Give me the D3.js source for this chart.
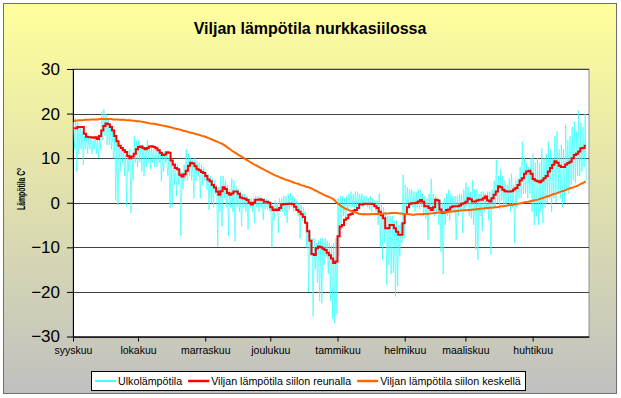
<!DOCTYPE html>
<html>
<head>
<meta charset="utf-8">
<script src="https://cdn.jsdelivr.net/npm/d3@7"></script>
<style>
  body { margin: 0; background: #fff; }
  text { font-family: Arial, "Liberation Sans", sans-serif; }
</style>
</head>
<body>
<div id="chart"></div>
<script>
// month names under the axis and the number of days shown in each month
const monthNames = ["syyskuu", "lokakuu", "marraskuu", "joulukuu", "tammikuu", "helmikuu", "maaliskuu", "huhtikuu"];
const monthDays = [30, 31, 30, 31, 31, 28, 31, 26];
const yTicks = [-30, -20, -10, 0, 10, 20, 30];

const seriesNames = ["Ulkolämpötila", "Viljan lämpötila siilon reunalla", "Viljan lämpötila siilon keskellä"];

// outdoor temperature, daily high and low reading
const outHigh = [
  18, 19, 18, 17, 16, 15, 15, 15, 15, 14,
  15, 14.5, 15, 20.5, 21, 20, 19, 17, 16, 15,
  14, 12.5, 13, 12, 11, 11, 12, 10, 15, 14,
  14, 13, 13, 12.5, 14, 13, 12.5, 12, 12, 11.5,
  12, 11, 11.5, 10.5, 10, 9.5, 9, 9, 8.5, 7.5,
  7, 8.5, 12, 11, 10, 9.5, 10, 9.5, 9, 8.5,
  8, 7, 6.5, 6, 5.5, 5, 4, 3.5, 6, 6,
  5, 4, 3, 5.5, 5, 3.5, 3, 2.5, 2, 2,
  1.5, 1, 1, 1, 1.5, 1.5, 1.2, 1, 1, 0.8,
  0.5, 0, -0.5, 0.5, 0, 1, 1, 1.5, 1.5, 2,
  2.2, 1.5, 1, 0.5, 0, -0.5, -1, -2, -5, -6,
  -8, -8, -9, -8.5, -8, -8, -8, -8.5, -9, -9.5,
  -9, -8, 1, 1.5, 1.5, 1, 1.5, 2, 2.5, 2,
  2.5, 2.5, 2, 2, 1.5, 1.5, 1, 1.5, 1, 0.5,
  0.5, 2, -0.5, -1, -2, -3, -3, -3, -4, -4,
  -5, -4.5, 6.3, 4, 3.5, 3, 3, 2.5, 2.5, 3,
  2.8, 2, 1.5, 1, 2, 5.4, 2, 1.5, 1, 0.5,
  0, 1, 2, 2.9, 2, 1.5, 1.5, 1.5, 2, 2,
  3, 4.5, 3.5, 2.5, 5, 3, 3, 2, 2.5, 2.5,
  2, 2.5, 2.5, 3, 5, 9.6, 6, 7.5, 6, 5,
  4, 5.5, 6.5, 4, 5, 5.5, 8, 13.7, 10, 9,
  8, 10, 11, 9, 10, 9, 12.2, 10, 11, 13.7,
  12, 10, 14.9, 16, 12, 13, 12, 17.5, 14, 15,
  17, 18.2, 16, 20.8, 18, 17, 20
];
const outLow = [
  12, 7, 11, 12, 8.5, 12, 11, 12, 11, 12,
  11, 10, 12, 14, 15, 13, 13, 12, 10, 0.5,
  -0.5, 7, 9, 6, -0.8, 7, -2.3, 5, 9, 8,
  9, 7, 6, 8, 9, 7.5, 9, 8, 8, 9,
  4.8, 7, 9, 6, -1.2, -0.8, 4, 1.5, 4, -7.5,
  3, 5, 5, 6, 5, 1, 5, 6, 1, 4,
  5, 3, -1.6, 0, -1, 2, -9.8, -2, -5.3, 1,
  -1, -7.5, -1, -2, -8.7, -1, -2, -5.3, -1, -2,
  -6, -1, -2, -4.5, -1, -2, -1, -3.8, -1.5, -1.5,
  -2, -10, -4, -2, -6.8, -2, -2, -3, -4.5, -1.5,
  -1, -2, -1.5, -3, -8, -4, -3, -10, -20, -12,
  -25.5, -15, -18, -22, -22.5, -14, -12, -16, -22, -26,
  -27, -25, -12, -6, -3, -4, -1.5, -1, -1, -1.5,
  -1, -0.5, -0.5, -1, -0.5, -1, -1.5, -2, -1, -2,
  -5, -9.8, -12.8, -9, -18.4, -14, -16, -15.7, -21, -18.7,
  -12, -9, -8, -2, -1, -0.5, -1, -2, -1, -1.5,
  -1, -3, -3.5, -8.3, -2, -1.5, -3, -2, -5, -11,
  -16, -5, -3, -4, -2, -2, -8.3, -3, -2, -6.8,
  -2, -1, -3, -3.5, -5, -10.5, -12.8, -3, -6.4, -2,
  -1, -4, -11.6, -1, -1, 0, -1.5, 0.5, -1, -1,
  0, -2, -1, -9, -1, 1, 1, 2, 2, 1,
  2, -2, -5, -3, -5, -2, -4.5, -1, 0, 1,
  -2, 1, 0, 2, 1, -1, 0, 3, 2, 4,
  5, 4.4, 6, 6, 7, 8, 5
];
// grain temperature at the silo wall
const edgeTemp = [
  16.7, 16.7, 17, 17, 17, 15.5, 14.8, 14.7, 14.7, 14.6,
  14.7, 14.3, 15, 16.2, 17.2, 17.8, 17.6, 17, 16.2, 15,
  13.8, 12.8, 12.3, 11.8, 11.4, 10.5, 10, 10.4, 11, 12,
  12.5, 12.6, 12.3, 12, 12.3, 12.6, 12.7, 12.5, 12.2, 11.8,
  11.2, 10.7, 10.8, 11.3, 11.2, 9.5, 8.5, 7.8, 7.5, 6.3,
  5.9, 6.4, 7.2, 8.3, 9, 8.8, 8.2, 7.5, 7.3, 6.9,
  6.7, 6, 5.2, 4.8, 4, 3.4, 2.5, 1.8, 2.6, 3.5,
  3.1, 2.2, 1.8, 2.1, 2.5, 2.5, 2, 1.2, 1, 0.9,
  0.6, 0, -0.4, 0, 0.7, 0.7, 0.8, 0.6, 0.2, 0.2,
  0, -1, -1.6, -1.5, -1.6, -1.2, -0.4, -0.3, -0.3, -0.2,
  -0.2, -0.3, -0.9, -1.6, -2, -2.6, -3.2, -4.5, -6.4, -8.5,
  -11.5, -11.7, -10.2, -9.8, -10, -10.3, -10.6, -11.2, -11.8, -12.5,
  -13.5, -13.2, -7.5, -5.3, -5, -3.8, -3.5, -2.7, -2.5, -1.8,
  -1.6, -1.2, -0.4, -0.4, -0.2, -0.2, -0.2, -0.2, -0.3, -0.8,
  -1.2, -2, -2.8, -3.5, -5.7, -5.7, -5, -5, -5.7, -6.5,
  -7.2, -7.2, -4.6, -2.5, -1, -0.2, -0.1, -0.1, 0, 0.3,
  0.6, 0.2, -0.8, -0.8, -1.2, -1.6, -1, 0.7, 0.5, -1.5,
  -2.3, -2.2, -1.6, -1.5, -1, -0.8, -0.8, -0.8, -0.6, -0.2,
  -0.1, 0.2, 1, 0.8, 0.3, 0.3, 0.5, 0.7, 0.7, 1,
  1.4, 0.5, 0.3, 1, 1.8, 2.5, 3.7, 3.5, 2.9, 2.6,
  2.5, 2.5, 2.6, 3, 3.3, 4, 5, 5.5, 6.5, 7,
  7.2, 6.5, 5.3, 5, 4.8, 4.6, 5, 5.5, 6, 7,
  7.8, 8.5, 9.3, 9, 8.3, 8, 8, 8.6, 8.9, 9.2,
  10, 10.7, 11, 11.5, 12.2, 12.3, 12.8
];
// grain temperature in the middle of the silo
const centerTemp = [
  18.4, 18.4, 18.5, 18.5, 18.5, 18.6, 18.6, 18.6, 18.7, 18.7,
  18.7, 18.7, 18.8, 18.8, 18.8, 18.8, 18.8, 18.8, 18.7, 18.7,
  18.7, 18.6, 18.6, 18.6, 18.5, 18.5, 18.5, 18.4, 18.4, 18.3,
  18.3, 18.2, 18.1, 18.0, 17.9, 17.8, 17.7, 17.7, 17.6, 17.5,
  17.4, 17.3, 17.2, 17.1, 17.0, 16.9, 16.7, 16.6, 16.5, 16.4,
  16.2, 16.1, 16.0, 15.8, 15.7, 15.6, 15.4, 15.3, 15.2, 15.0,
  14.9, 14.7, 14.5, 14.3, 14.1, 13.9, 13.7, 13.5, 13.3, 13.0,
  12.7, 12.3, 12.0, 11.6, 11.3, 11.0, 10.7, 10.4, 10.1, 9.8,
  9.5, 9.2, 8.9, 8.6, 8.4, 8.1, 7.8, 7.6, 7.3, 7.1,
  6.8, 6.6, 6.3, 6.1, 5.9, 5.7, 5.5, 5.3, 5.1, 5.0,
  4.8, 4.6, 4.4, 4.3, 4.1, 3.9, 3.8, 3.6, 3.5, 3.3,
  3.1, 2.8, 2.6, 2.3, 2.1, 1.8, 1.6, 1.4, 1.2, 1.0,
  0.6, 0.1, -0.3, -0.7, -1.0, -1.3, -1.5, -1.7, -1.9, -2.1,
  -2.2, -2.4, -2.5, -2.6, -2.6, -2.6, -2.6, -2.6, -2.5, -2.5,
  -2.5, -2.5, -2.5, -2.4, -2.4, -2.4, -2.3, -2.3, -2.3, -2.3,
  -2.4, -2.4, -2.5, -2.5, -2.6, -2.6, -2.7, -2.7, -2.6, -2.6,
  -2.6, -2.5, -2.5, -2.5, -2.4, -2.4, -2.3, -2.3, -2.2, -2.2,
  -2.2, -2.1, -2.1, -2.0, -2.0, -1.9, -1.9, -1.8, -1.8, -1.7,
  -1.7, -1.7, -1.6, -1.6, -1.5, -1.5, -1.4, -1.4, -1.3, -1.3,
  -1.2, -1.2, -1.1, -1.1, -1.0, -1.0, -0.9, -0.8, -0.8, -0.7,
  -0.6, -0.5, -0.5, -0.4, -0.3, -0.2, -0.1, 0.0, 0.1, 0.2,
  0.3, 0.4, 0.5, 0.6, 0.7, 0.9, 1.0, 1.2, 1.4, 1.5,
  1.7, 1.9, 2.0, 2.2, 2.4, 2.6, 2.7, 2.9, 3.1, 3.3,
  3.4, 3.6, 3.8, 4.0, 4.3, 4.5, 4.8
];

const width = 621, height = 398;
const plot = { left: 73, right: 589, top: 69, bottom: 336.5 };

const svg = d3.select("#chart").append("svg")
  .attr("width", width)
  .attr("height", height);

// background gradient of the chart area
const grad = svg.append("defs").append("linearGradient")
  .attr("id", "bg").attr("x1", 0).attr("y1", 0).attr("x2", 0).attr("y2", 1);
grad.append("stop").attr("offset", "0%").attr("stop-color", "#ffff9c");
grad.append("stop").attr("offset", "100%").attr("stop-color", "#c0c0c0");

svg.append("rect")
  .attr("x", 3.5).attr("y", 3.5)
  .attr("width", 613).attr("height", 390)
  .attr("fill", "url(#bg)")
  .attr("stroke", "#707070");

// title
svg.append("text")
  .attr("x", 310).attr("y", 34)
  .attr("text-anchor", "middle")
  .attr("font-size", 16).attr("font-weight", "bold")
  .text("Viljan lämpötila nurkkasiilossa");

const nDays = d3.sum(monthDays);
const monthStarts = monthDays.map((d, i) => d3.sum(monthDays.slice(0, i)));

const x = d3.scaleLinear().domain([0, nDays]).range([plot.left, plot.right]);
const y = d3.scaleLinear().domain([-30, 30]).range([plot.bottom, plot.top]);

// plot area
svg.append("rect")
  .attr("x", plot.left).attr("y", plot.top)
  .attr("width", plot.right - plot.left).attr("height", plot.bottom - plot.top)
  .attr("fill", "#fff")
  .attr("stroke", "#909090");

// horizontal gridlines
svg.append("g")
  .selectAll("line")
  .data(yTicks)
  .enter()
  .append("line")
  .attr("x1", plot.left).attr("x2", plot.right)
  .attr("y1", (d) => Math.round(y(d)) + 0.5)
  .attr("y2", (d) => Math.round(y(d)) + 0.5)
  .attr("stroke", "#404040");

// Y axis
const yAxis = svg.append("g")
  .attr("transform", "translate(" + plot.left + ",0)")
  .call(d3.axisLeft(y).tickValues(yTicks).tickSize(6).tickSizeOuter(0).tickPadding(7));
yAxis.selectAll("text").attr("font-size", 17).attr("fill", "#000").attr("font-family", null);
yAxis.select(".domain").attr("stroke", "#000");

// X axis, ticks at month starts
const xAxis = svg.append("g")
  .attr("transform", "translate(0," + plot.bottom + ")")
  .call(d3.axisBottom(x).tickValues(monthStarts)
    .tickFormat((d, i) => monthNames[i])
    .tickSize(5).tickSizeOuter(0).tickPadding(5));
xAxis.selectAll("text").attr("font-size", 10.5).attr("fill", "#000").attr("font-family", null);
xAxis.select(".domain").attr("stroke", "#000");

// Y axis title
svg.append("text")
  .attr("transform", "translate(25,189) rotate(-90)")
  .attr("text-anchor", "middle")
  .attr("font-size", 10).attr("font-weight", "bold")
  .attr("textLength", 42).attr("lengthAdjust", "spacingAndGlyphs")
  .text("Lämpötila C°");

// outdoor readings: daily high and low
const outdoorPoints = [];
outHigh.forEach((v, i) => {
  outdoorPoints.push([i + 0.25, v]);
  outdoorPoints.push([i + 0.75, outLow[i]]);
});

const line = d3.line().x((d) => x(d[0])).y((d) => y(d[1]));

svg.append("path")
  .datum(outdoorPoints)
  .attr("d", line)
  .attr("fill", "none")
  .attr("stroke", "#33ffff")
  .attr("stroke-width", 0.7);

svg.append("path")
  .datum(edgeTemp.map((v, i) => [i + 0.5, v]))
  .attr("d", line.curve(d3.curveStep))
  .attr("fill", "none")
  .attr("stroke", "#ff0000")
  .attr("stroke-width", 2);

svg.append("path")
  .datum(centerTemp.map((v, i) => [i + 0.5, v]))
  .attr("d", line.curve(d3.curveLinear))
  .attr("fill", "none")
  .attr("stroke", "#ff6600")
  .attr("stroke-width", 2);

// legend
const colors = ["#00ffff", "#ff0000", "#ff6600"];
svg.append("rect")
  .attr("x", 91.5).attr("y", 371.5)
  .attr("width", 434).attr("height", 19)
  .attr("fill", "#fff").attr("stroke", "#000");

let lx = 95;
seriesNames.forEach((name, i) => {
  svg.append("line")
    .attr("x1", lx).attr("x2", lx + 21)
    .attr("y1", 381).attr("y2", 381)
    .attr("stroke", colors[i])
    .attr("stroke-width", i === 0 ? 1.5 : 2.5);
  const t = svg.append("text")
    .attr("x", lx + 23).attr("y", 385)
    .attr("font-size", 10.7)
    .text(name);
  lx = lx + 23 + t.node().getComputedTextLength() + 6;
});
</script>
</body>
</html>
